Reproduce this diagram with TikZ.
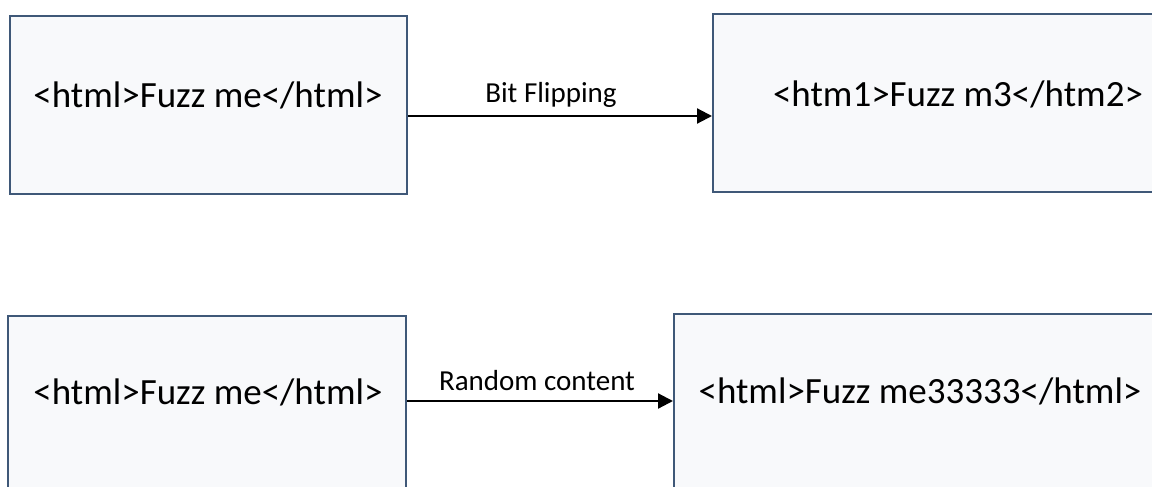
\documentclass[tikz,border=0pt]{standalone}
\usepackage{fontspec}
\setmainfont{Carlito}
\usetikzlibrary{arrows.meta}
\definecolor{boxfill}{HTML}{F8F9FB}
\definecolor{boxline}{HTML}{3F5878}
\begin{document}
\begin{tikzpicture}[x=1pt,y=-1pt,
  box/.style={draw=boxline,fill=boxfill,line width=2pt,inner sep=0pt},
  txt/.style={inner sep=0pt,font=\fontsize{37}{44}\selectfont},
  lbl/.style={inner sep=0pt,font=\fontsize{29}{35}\selectfont},
  conn/.style={line width=2.2pt,-{Triangle[length=15pt,width=15pt]}}]
\useasboundingbox (0,0) rectangle (1152,487);
\clip (0,0) rectangle (1152,487);
% boxes
\node[box,minimum width=397pt,minimum height=178pt] (b1) at (208.5,105) {};
\node[box,minimum width=460pt,minimum height=178pt] (b2) at (943,103) {};
\node[box,minimum width=398pt,minimum height=220pt] (b3) at (207,426) {};
\node[box,minimum width=500pt,minimum height=220pt] (b4) at (924,424) {};
% texts
\node[txt] (t1) at (208,95) {<html>Fuzz me</html>};
\node[txt] (t2) at (958,94) {<htm1>Fuzz m3</htm2>};
\node[txt] (t3) at (208,392) {<html>Fuzz me</html>};
\node[txt] (t4) at (920,391) {<html>Fuzz me33333</html>};
% connectors
\coordinate (a1) at (0,116);
\coordinate (a2) at (0,401);
\draw[conn] (b1.east |- a1) -- (b2.west |- a1);
\draw[conn] (b3.east |- a2) -- (b4.west |- a2);
\node[lbl] (l1) at (551,95) {Bit Flipping};
\node[lbl] (l2) at (537,381) {Random content};
\end{tikzpicture}
\end{document}
